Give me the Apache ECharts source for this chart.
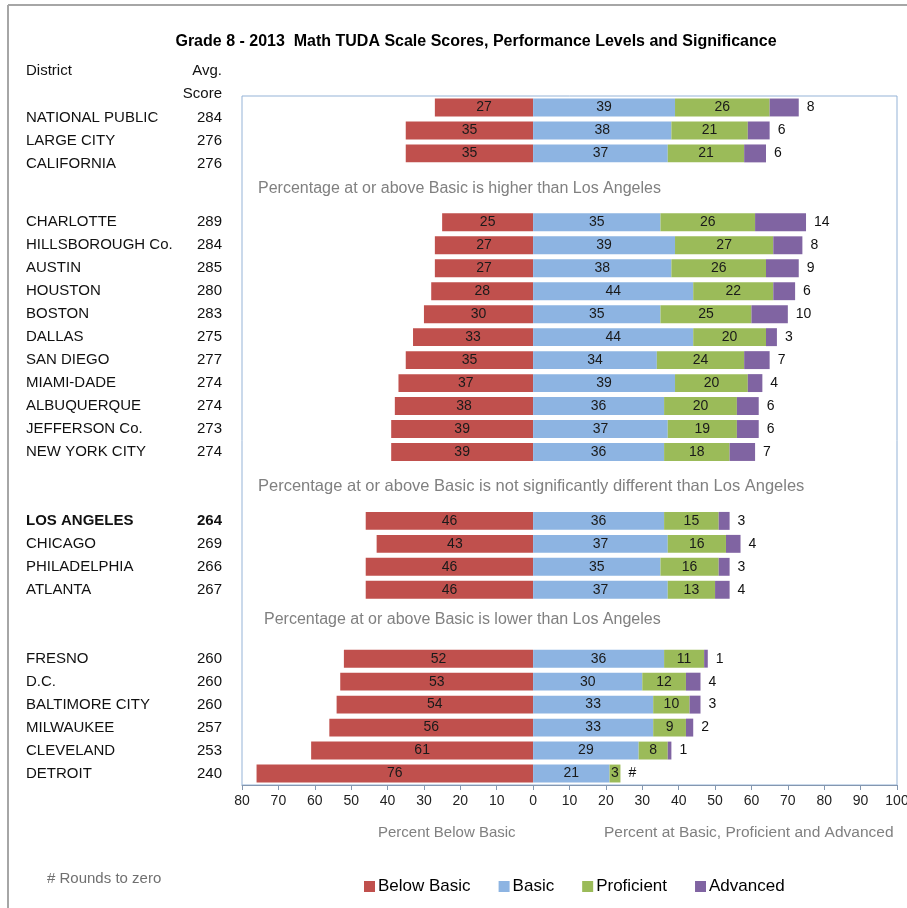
<!DOCTYPE html>
<html>
<head>
<meta charset="utf-8">
<script src="https://cdn.jsdelivr.net/npm/echarts@6/dist/echarts.min.js"></script>
<style>
  html, body { margin: 0; padding: 0; background: #fff; }
  #main { width: 907px; height: 908px; }
</style>
</head>
<body>
<div id="main"></div>
<script>
// '' rows are the gaps where the group notes sit
const districts = ['NATIONAL PUBLIC', 'LARGE CITY', 'CALIFORNIA', '', '',
  'CHARLOTTE', 'HILLSBOROUGH Co.', 'AUSTIN', 'HOUSTON', 'BOSTON', 'DALLAS', 'SAN DIEGO',
  'MIAMI-DADE', 'ALBUQUERQUE', 'JEFFERSON Co.', 'NEW YORK CITY', '', '',
  'LOS ANGELES', 'CHICAGO', 'PHILADELPHIA', 'ATLANTA', '', '',
  'FRESNO', 'D.C.', 'BALTIMORE CITY', 'MILWAUKEE', 'CLEVELAND', 'DETROIT'];
const avgScore = [284, 276, 276, '', '',
  289, 284, 285, 280, 283, 275, 277, 274, 274, 273, 274, '', '',
  264, 269, 266, 267, '', '',
  260, 260, 260, 257, 253, 240];
const belowBasic = [27, 35, 35, '-', '-',
  25, 27, 27, 28, 30, 33, 35, 37, 38, 39, 39, '-', '-',
  46, 43, 46, 46, '-', '-',
  52, 53, 54, 56, 61, 76];
const basic = [39, 38, 37, '-', '-',
  35, 39, 38, 44, 35, 44, 34, 39, 36, 37, 36, '-', '-',
  36, 37, 35, 37, '-', '-',
  36, 30, 33, 33, 29, 21];
const proficient = [26, 21, 21, '-', '-',
  26, 27, 26, 22, 25, 20, 24, 20, 20, 19, 18, '-', '-',
  15, 16, 16, 13, '-', '-',
  11, 12, 10, 9, 8, 3];
const advanced = [8, 6, 6, '-', '-',
  14, 8, 9, 6, 10, 3, 7, 4, 6, 6, 7, '-', '-',
  3, 4, 3, 4, '-', '-',
  1, 4, 3, 2, 1, 0];
const groupNotes = [
  'Percentage at or above Basic is higher than Los Angeles',
  'Percentage at or above Basic is not significantly different than Los Angeles',
  'Percentage at or above Basic is lower than Los Angeles'
];
const highlight = 'LOS ANGELES';

const FONT = '"Liberation Sans", Arial, sans-serif';
const chart = echarts.init(document.getElementById('main'));

const insideLabel = {
  show: true,
  position: 'inside',
  color: '#1a1a1a',
  fontSize: 14,
  fontFamily: FONT,
  formatter: p => Math.abs(p.value)
};

const nameStyle = (w, align, bold) => ({
  width: w, align: align, fontSize: 15, color: '#111',
  fontWeight: bold ? 'bold' : 'normal', fontFamily: FONT
});

chart.setOption({
  animation: false,
  textStyle: { fontFamily: FONT },
  title: {
    text: 'Grade 8 - 2013  Math TUDA Scale Scores, Performance Levels and Significance',
    left: 471,
    textAlign: 'center',
    top: 29,
    textStyle: { fontSize: 16, fontWeight: 'bold', color: '#000', fontFamily: FONT }
  },
  legend: {
    left: 359,
    top: 873,
    itemWidth: 11,
    itemHeight: 11,
    itemGap: 28,
    icon: 'rect',
    textStyle: { fontSize: 17, color: '#000', fontFamily: FONT, padding: [0, 0, 0, -2] },
    data: ['Below Basic', 'Basic', 'Proficient', 'Advanced']
  },
  grid: {
    left: 242,
    right: 10,
    top: 96,
    bottom: 123,
    outerBoundsMode: 'none',
    show: true,
    borderColor: '#95B3D7',
    borderWidth: 1
  },
  xAxis: {
    type: 'value',
    min: -80,
    max: 100,
    interval: 10,
    splitLine: { show: false },
    axisLine: { show: true, lineStyle: { color: '#8497B0' } },
    axisTick: { show: true, length: 5, lineStyle: { color: '#8497B0' } },
    axisLabel: {
      color: '#222',
      fontSize: 14,
      margin: 9,
      formatter: v => Math.abs(v)
    }
  },
  yAxis: {
    type: 'category',
    inverse: true,
    data: districts,
    axisLine: { show: false },
    axisTick: { show: false },
    axisLabel: {
      margin: 20,
      formatter: (v, i) => {
        if (!v) return '';
        // the first block of names sits a little lower than its bars
        const st = v === highlight ? 'b' : (i < 3 ? 't' : 'n');
        return `{${st}|${v}}{${st}s|${avgScore[i]}}`;
      },
      rich: {
        n: nameStyle(150, 'left', false),
        ns: nameStyle(46, 'right', false),
        t: Object.assign(nameStyle(150, 'left', false), { padding: [20, 0, 0, 0] }),
        ts: Object.assign(nameStyle(46, 'right', false), { padding: [20, 0, 0, 0] }),
        b: nameStyle(150, 'left', true),
        bs: nameStyle(46, 'right', true)
      }
    }
  },
  graphic: [
    { type: 'line', shape: { x1: 8, y1: 5, x2: 907, y2: 5 }, style: { stroke: '#A6A6A6', lineWidth: 2 } },
    { type: 'line', shape: { x1: 8, y1: 5, x2: 8, y2: 908 }, style: { stroke: '#A6A6A6', lineWidth: 2 } },
    { type: 'text', left: 26, top: 63, style: { text: 'District', font: '15px ' + FONT, fill: '#111' } },
    { type: 'text', right: 907 - 222, top: 63, style: { text: 'Avg.', textAlign: 'right', font: '15px ' + FONT, fill: '#111' } },
    { type: 'text', right: 907 - 222, top: 86, style: { text: 'Score', textAlign: 'right', font: '15px ' + FONT, fill: '#111' } },
    { type: 'text', left: 258, top: 181, style: { text: groupNotes[0], font: '16px ' + FONT, fill: '#808080' } },
    { type: 'text', left: 258, top: 478, style: { text: groupNotes[1], font: '16.5px ' + FONT, fill: '#808080' } },
    { type: 'text', left: 264, top: 612, style: { text: groupNotes[2], font: '16px ' + FONT, fill: '#808080' } },
    { type: 'text', left: 378, top: 825, style: { text: 'Percent Below Basic', font: '15px ' + FONT, fill: '#808080' } },
    { type: 'text', left: 604, top: 825, style: { text: 'Percent at Basic, Proficient and Advanced', font: '15.5px ' + FONT, fill: '#808080' } },
    { type: 'text', left: 47, top: 871, style: { text: '# Rounds to zero', font: '15px ' + FONT, fill: '#707070' } }
  ],
  series: [
    {
      name: 'Below Basic', type: 'bar', stack: 'total', barCategoryGap: '22%',
      itemStyle: { color: '#C0504D' },
      label: insideLabel,
      data: belowBasic.map(v => (v === '-' ? '-' : -v))
    },
    {
      name: 'Basic', type: 'bar', stack: 'total',
      itemStyle: { color: '#8DB4E2' },
      label: insideLabel,
      data: basic
    },
    {
      name: 'Proficient', type: 'bar', stack: 'total',
      itemStyle: { color: '#9BBB59' },
      label: insideLabel,
      data: proficient
    },
    {
      name: 'Advanced', type: 'bar', stack: 'total',
      itemStyle: { color: '#8064A2' },
      label: {
        show: true,
        position: 'right',
        distance: 8,
        color: '#111',
        fontSize: 14,
        fontFamily: FONT,
        formatter: p => (p.value === 0 ? '#' : p.value)
      },
      data: advanced
    }
  ]
});
</script>
</body>
</html>
